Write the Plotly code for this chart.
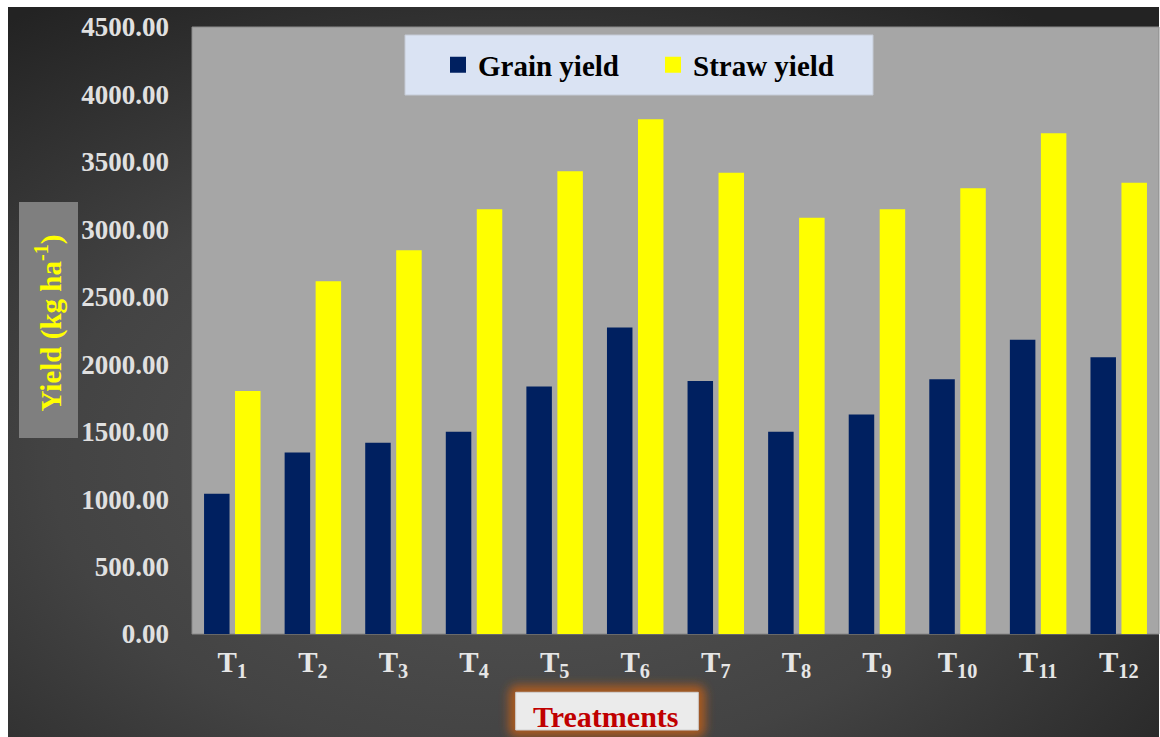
import base64
import plotly.graph_objects as go

# ---- data ----
categories = ["T1", "T2", "T3", "T4", "T5", "T6", "T7", "T8", "T9", "T10", "T11", "T12"]
tick_labels = ["T<sub>%d</sub>" % i for i in range(1, 13)]
grain_yield = [1040, 1345, 1417, 1500, 1835, 2272, 1875, 1500, 1627, 1889, 2181, 2052]
straw_yield = [1802, 2616, 2845, 3149, 3431, 3816, 3420, 3085, 3149, 3305, 3712, 3346]
y_ticks = [0, 500, 1000, 1500, 2000, 2500, 3000, 3500, 4000, 4500]

W, H = 1160, 737
L, R, T, B = 192, 1, 27, 103
PW = W - L - R
PH = H - T - B


def px(x):
    return (x - L) / PW


def py(y):
    return (H - B - y) / PH


FONT = "Liberation Serif, Times New Roman, serif"

# ---- background (dark radial gradient + glow behind the x-title box) ----
bw, bh = 1151, 730
ox, oy = 8, 7
gx0, gy0, gx1, gy1 = 515.7 - ox, 692.3 - oy, 698.3 - ox, 730 - oy
svg = f'''<svg xmlns="http://www.w3.org/2000/svg" width="{bw}" height="{bh}" viewBox="0 0 {bw} {bh}" preserveAspectRatio="none">
<defs>
<radialGradient id="g" cx="0.45" cy="0.62" r="0.75" gradientUnits="objectBoundingBox">
<stop offset="0" stop-color="#565656"/>
<stop offset="0.55" stop-color="#434343"/>
<stop offset="1" stop-color="#232323"/>
</radialGradient>
<filter id="blur" x="-30%" y="-60%" width="160%" height="220%"><feGaussianBlur stdDeviation="5"/></filter>
</defs>
<rect x="0" y="0" width="{bw}" height="{bh}" fill="url(#g)"/>
<rect x="{gx0-7}" y="{gy0-7}" width="{gx1-gx0+14}" height="{gy1-gy0+14}" rx="8" fill="#a85a22" filter="url(#blur)"/>
</svg>'''
svg_uri = "data:image/svg+xml;base64," + base64.b64encode(svg.encode()).decode()

fig = go.Figure()

fig.add_trace(go.Bar(x=categories, y=grain_yield, name="Grain yield",
                     marker=dict(color="#002060", line=dict(width=0)), showlegend=False))
fig.add_trace(go.Bar(x=categories, y=straw_yield, name="Straw yield",
                     marker=dict(color="#ffff00", line=dict(width=0)), showlegend=False))
# legend entries (square swatches)
fig.add_trace(go.Scatter(x=[None], y=[None], mode="markers", name="Grain yield",
                         marker=dict(symbol="square", size=16, color="#002060")))
fig.add_trace(go.Scatter(x=[None], y=[None], mode="markers", name="Straw yield",
                         marker=dict(symbol="square", size=16, color="#ffff00")))

shapes = [
    # plot area
    dict(type="rect", xref="paper", yref="paper", x0=0, x1=1, y0=0, y1=1,
         fillcolor="#a6a6a6", line=dict(color="#8a8a8a", width=1), layer="below"),
    # legend box
    dict(type="rect", xref="paper", yref="paper", x0=px(405), x1=px(873), y0=py(95), y1=py(35),
         fillcolor="#dae3f3", line=dict(color="#c5cbd6", width=1), layer="below"),
    # y-title box
    dict(type="rect", xref="paper", yref="paper", x0=px(19), x1=px(78), y0=py(438), y1=py(202),
         fillcolor="#7f7f7f", line=dict(width=0), layer="below"),
    # x-title box
    dict(type="rect", xref="paper", yref="paper", x0=px(515.7), x1=px(698.3), y0=py(730), y1=py(692.3),
         fillcolor="#ebebeb", line=dict(color="#d0d0d0", width=1), layer="below"),
]

annotations = [
    dict(text="<b>Yield (kg ha<sup>-1</sup>)</b>", xref="paper", yref="paper",
         x=px(48.5), y=py(323), textangle=-90, showarrow=False,
         font=dict(family=FONT, size=29, color="#ffff00"), xanchor="center", yanchor="middle"),
    dict(text="<b>Treatments</b>", xref="paper", yref="paper",
         x=px(606), y=py(716), showarrow=False,
         font=dict(family=FONT, size=30, color="#c00000"), xanchor="center", yanchor="middle"),
]

fig.update_layout(
    width=W, height=H,
    margin=dict(l=L, r=R, t=T, b=B, pad=0),
    paper_bgcolor="white",
    plot_bgcolor="rgba(0,0,0,0)",
    barmode="group",
    bargap=0.231,
    bargroupgap=0.177,
    font=dict(family=FONT),
    images=[dict(source=svg_uri, xref="paper", yref="paper", x=px(ox), y=py(oy),
                 sizex=bw / PW, sizey=bh / PH, xanchor="left", yanchor="top",
                 sizing="stretch", layer="below")],
    shapes=shapes,
    annotations=annotations,
    legend=dict(orientation="h", x=px(438), y=py(65), xanchor="left", yanchor="middle",
                bgcolor="rgba(0,0,0,0)", borderwidth=0, itemwidth=30, entrywidth=170,
                font=dict(family=FONT, size=29, color="black", weight="bold")),
    xaxis=dict(tickmode="array", tickvals=categories, ticktext=tick_labels,
               showgrid=False, zeroline=False, showline=False, ticks="",
               ticklabelstandoff=8,
               tickfont=dict(family=FONT, size=29, color="#e6e6e6", weight="bold")),
    yaxis=dict(range=[0, 4500], tickvals=y_ticks, tickformat=".2f",
               showgrid=False, zeroline=False, showline=False, ticks="",
               ticklabelstandoff=22,
               tickfont=dict(family=FONT, size=27, color="#e0e0e0", weight="bold")),
)

fig.write_html("out.html")
